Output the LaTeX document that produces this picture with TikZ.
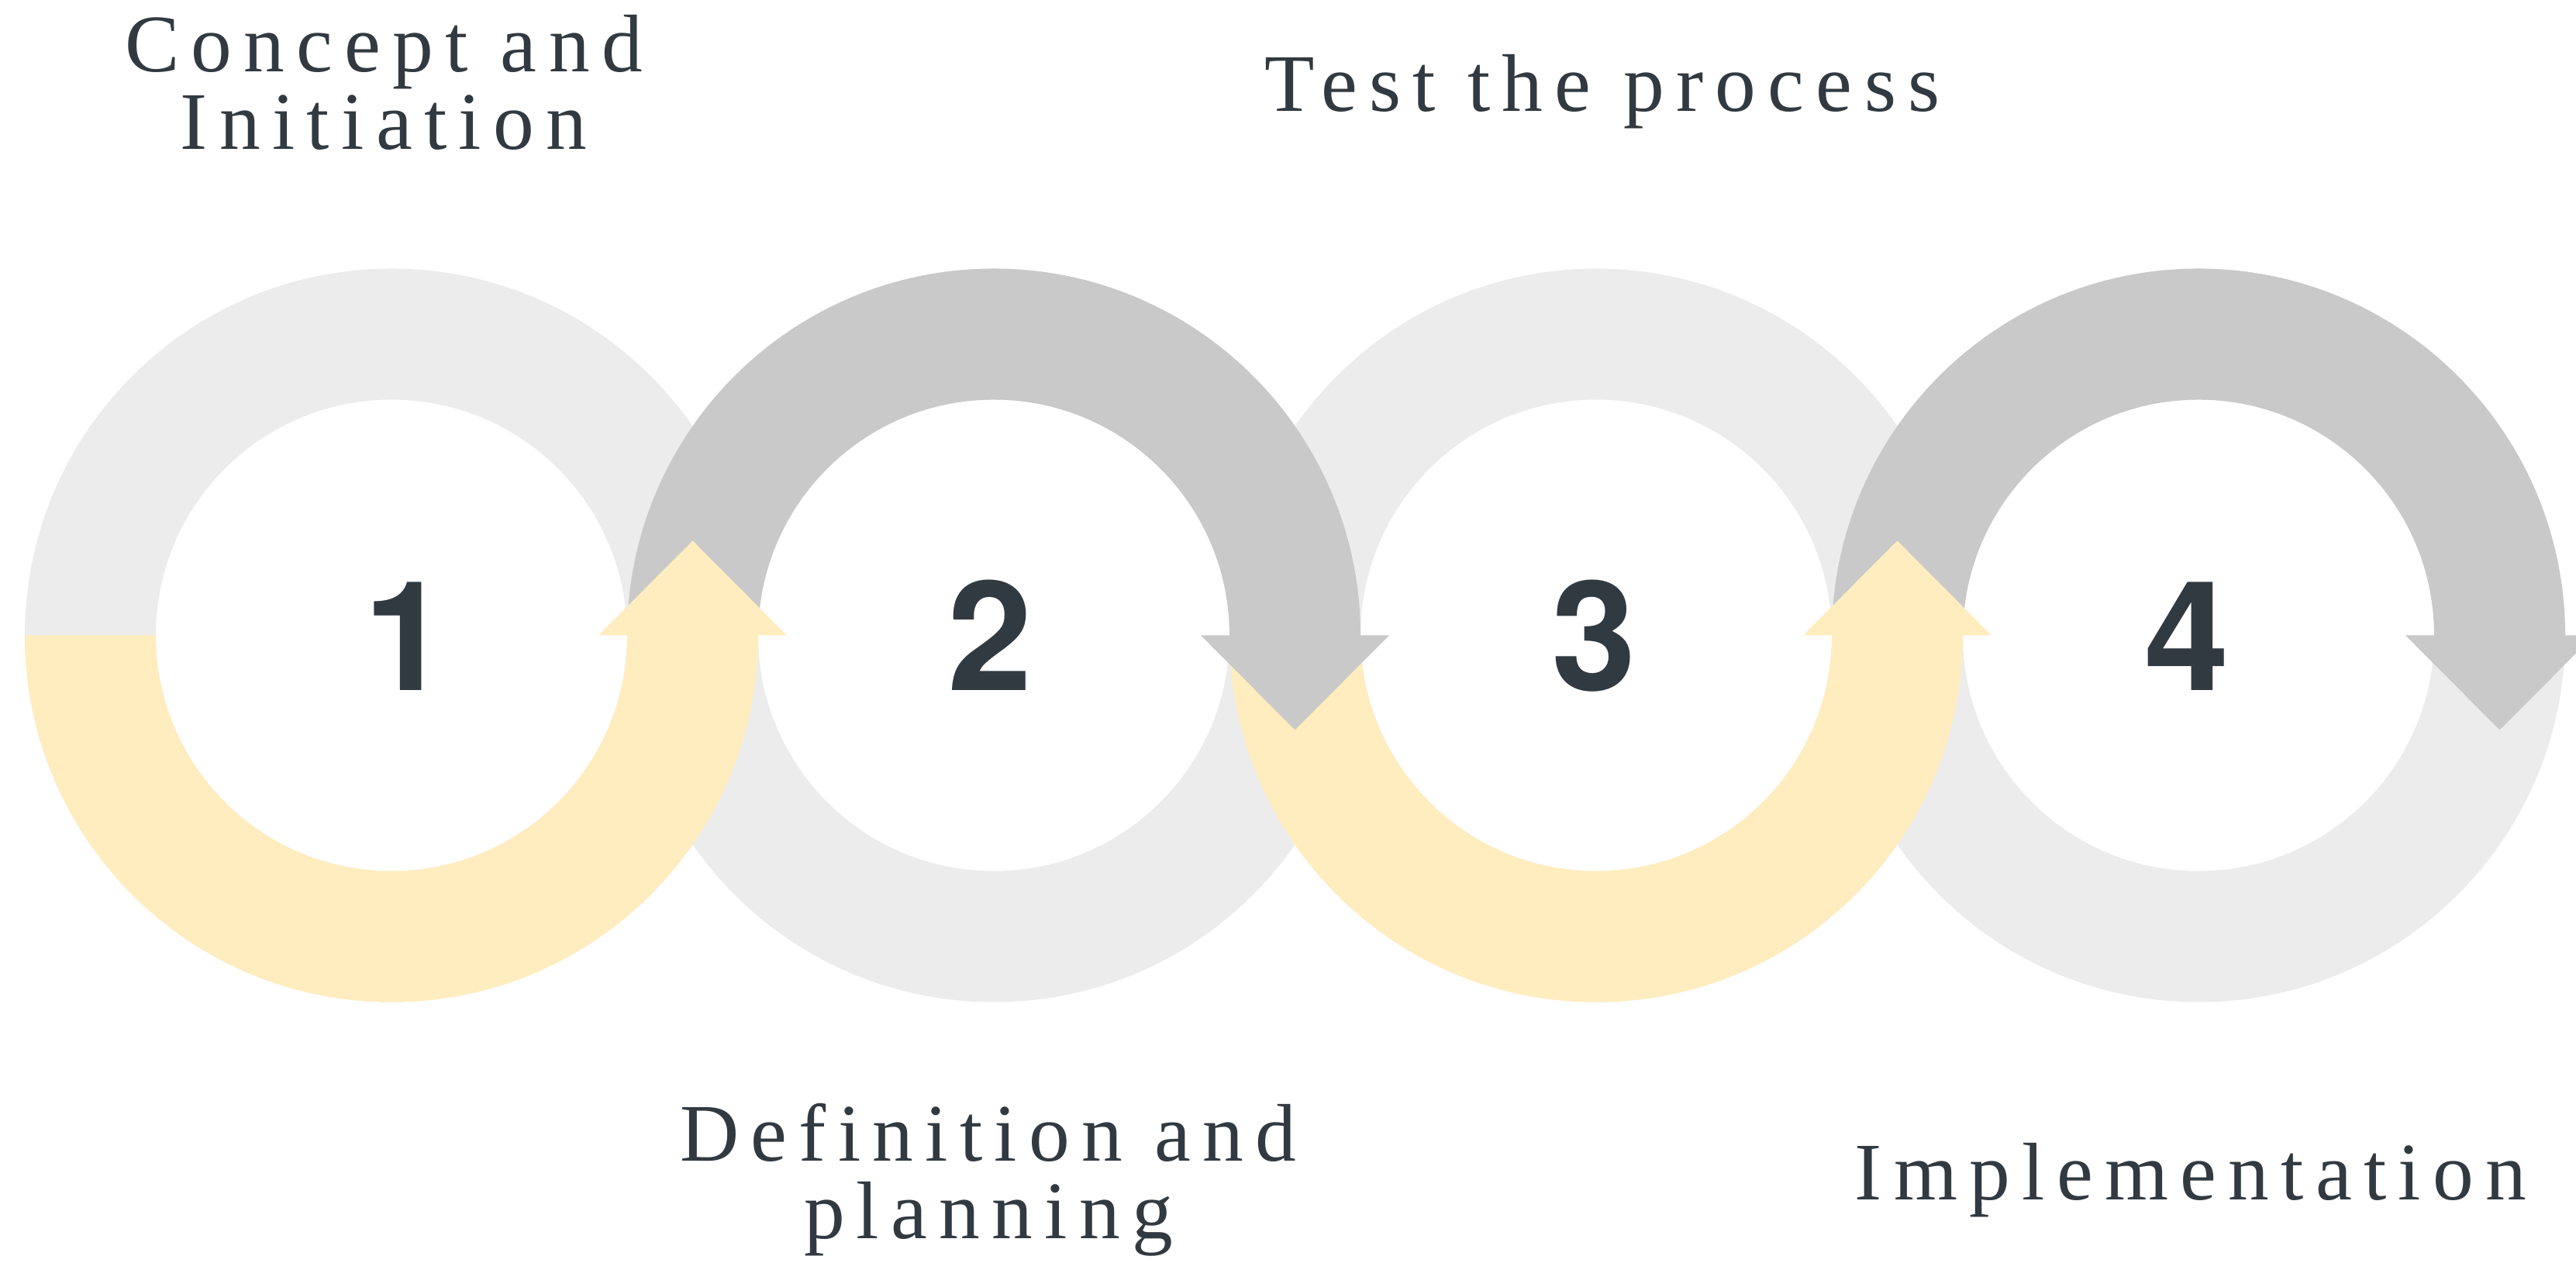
\documentclass[tikz,border=0pt]{standalone}
\usepackage{fontspec}
\newfontfamily\labelfont{Liberation Serif}[LetterSpace=14.5]
\newfontfamily\numberfont{TeX Gyre Heros}

\definecolor{ringgrey}{HTML}{ECECEC}
\definecolor{arrowgrey}{HTML}{C9C9C9}
\definecolor{arrowyellow}{HTML}{FFEDBF}
\definecolor{textdark}{HTML}{323A41}

\tikzset{
  steplabel/.style={text=textdark,align=center,anchor=base,inner sep=0pt,
    font=\labelfont\fontsize{30}{28.7}\selectfont},
  stepnumber/.style={text=textdark,anchor=base,inner sep=0pt,
    font=\numberfont\bfseries\fontsize{56}{60}\selectfont}
}

\begin{document}
\begin{tikzpicture}
  \useasboundingbox (0,0) rectangle (33.23,16.29);
  \clip (0,0) rectangle (33.23,16.29);

  % helper grid: comment for final drawing
  % \draw[help lines,step=1] (0,0) grid (33,16);

  % background rings
  \foreach \cx in {5.05,12.82,20.59,28.36}
    \fill[ringgrey,even odd rule] (\cx,8.095) circle (4.73) (\cx,8.095) circle (3.04);

  % half ring arrows, from right to left so each head lies on top
  \foreach \cx/\col/\side in {28.36/arrowgrey/1,20.59/arrowyellow/-1,12.82/arrowgrey/1,5.05/arrowyellow/-1}
    \fill[\col,shift={(\cx,8.095)},yscale=\side]
      (-4.73,0) arc (180:0:4.73) -- (5.10,0) -- (3.885,-1.22) -- (2.67,0)
      -- (3.04,0) arc (0:180:3.04) -- cycle;

  % numbers
  \node[stepnumber] (one)   at (5.24,7.38)  {1};
  \node[stepnumber] (two)   at (12.77,7.38) {2};
  \node[stepnumber] (three) at (20.56,7.38) {3};
  \node[stepnumber] (four)  at (28.21,7.38) {4};

  % text (base is the last line)
  \node[steplabel] (concept)        at (4.95,14.36)  {Concept and\\Initiation};
  \node[steplabel] (test)           at (20.67,14.85) {Test the process};
  \node[steplabel] (definition)     at (12.75,0.31)  {Definition and\\planning};
  \node[steplabel] (implementation) at (28.26,0.81)  {Implementation};
\end{tikzpicture}
\end{document}
